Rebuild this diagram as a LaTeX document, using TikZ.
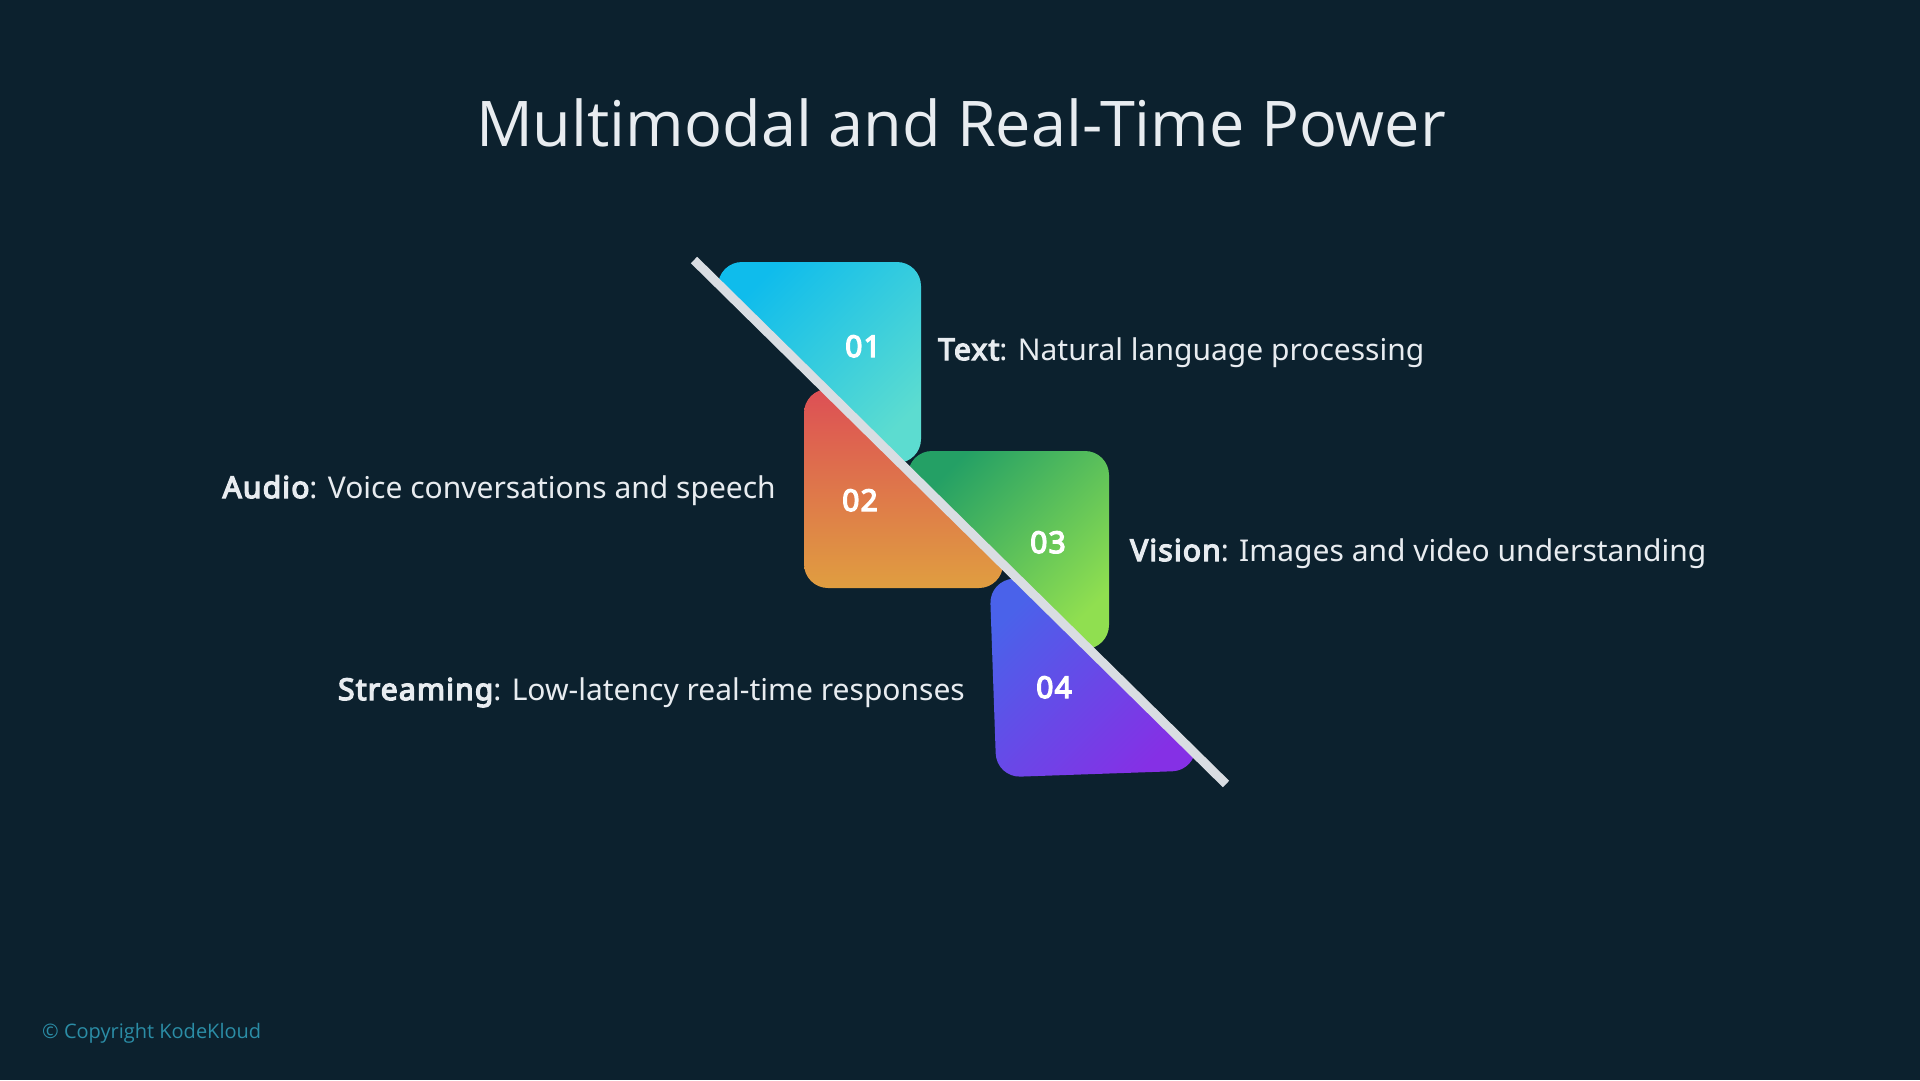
\documentclass[tikz,border=0pt]{standalone}
\usepackage{fontspec}
\setmainfont{Noto Sans}
\newfontfamily\titlefont{Open Sans}
\newfontfamily\hvy{Noto Sans}[FakeBold=4.5, LetterSpace=4]
\newcommand{\hv}[1]{{\hvy #1}}
\definecolor{bg}{HTML}{0C212E}
\definecolor{txt}{HTML}{E8ECF0}
\definecolor{linec}{HTML}{D9DDE2}
\definecolor{copyc}{HTML}{2B8DA6}
\definecolor{cAa}{HTML}{0FBCEC}
\definecolor{cAb}{HTML}{5CDCD0}
\definecolor{cBa}{HTML}{DD4F55}
\definecolor{cBb}{HTML}{E09E40}
\definecolor{cCa}{HTML}{24A065}
\definecolor{cCb}{HTML}{90DF50}
\definecolor{cDa}{HTML}{4A62EA}
\definecolor{cDb}{HTML}{8530E5}
\tikzset{
  tile/.style={rounded corners=24pt},
  num/.style={text=white, font=\hvy\fontsize{30}{30}\selectfont, anchor=base, inner sep=0pt},
  lbl/.style={text=txt, font=\fontsize{30}{30}\selectfont, inner sep=0pt},
}
\begin{document}
\begin{tikzpicture}[x=1pt,y=-1pt]
\useasboundingbox[fill=bg] (0,0) rectangle (1920,1080);

% upper-right half
\begin{scope}
\clip (162,-264) -- (1758,1308) -- (3758,-692) -- (2162,-2264) -- cycle;
\shade[tile, top color=cAa, bottom color=cAb, shading angle=45] (718,262) rectangle (921,463);
\shade[tile, top color=cCa, bottom color=cCb, shading angle=45] (908,451) rectangle (1109,649);
\end{scope}
% lower-left half
\begin{scope}
\clip (162,-264) -- (1758,1308) -- (-242,3308) -- (-1838,1736) -- cycle;
\shade[tile, top color=cBa, bottom color=cBb] (804,389) rectangle (1003,588);
\begin{scope}[rotate around={2:(1093,675)}]
\shade[tile, top color=cDa, bottom color=cDb, shading angle=45] (993,576) rectangle (1193,774);
\end{scope}
\end{scope}

\coordinate (ls) at (694,260);
\coordinate (le) at (1226,784);
\draw[line width=9pt, linec] (ls) -- (le);

\node[num] (n1) at (863,357) {01};
\node[num] (n2) at (860,511) {02};
\node[num] (n3) at (1048,553) {03};
\node[num] (n4) at (1054,698) {04};

\node[lbl, anchor=base west] (l1) at (938,360) {\hv{Text}: Natural language processing};
\node[lbl, anchor=base east] (l2) at (776,498) {\hv{Audio}: Voice conversations and speech};
\node[lbl, anchor=base west] (l3) at (1130,561) {\hv{Vision}: Images and video understanding};
\node[lbl, anchor=base east] (l4) at (965,700) {\hv{Streaming}: Low-latency real-time responses};

\node[text=txt, font=\titlefont\fontsize{63}{63}\selectfont, anchor=base, inner sep=0pt] (title) at (961,146) {Multimodal and Real-Time Power};
\node[text=copyc, font=\titlefont\fontsize{20}{20}\selectfont, anchor=base west, inner sep=0pt] (copy) at (42,1038) {\textcopyright{} Copyright KodeKloud};
\end{tikzpicture}
\end{document}
